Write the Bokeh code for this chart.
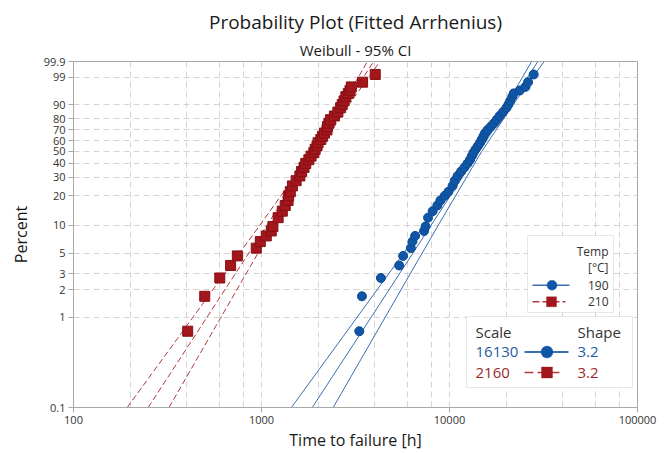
import numpy as np
from bokeh.plotting import figure
from bokeh.models import (FixedTicker, Label, BoxAnnotation, Arrow, Range1d,
                          BasicTickFormatter, Title)
from bokeh.embed import file_html
from bokeh.resources import INLINE

# ---------------- data ----------------
TITLE = "Probability Plot (Fitted Arrhenius)"
SUBTITLE = "Weibull - 95% CI"
X_LABEL = "Time to failure [h]"
Y_LABEL = "Percent"

x_ticks = [100, 1000, 10000, 100000]
x_grid = [200, 400, 600, 800, 1000, 2000, 4000, 6000, 8000, 10000,
          20000, 40000, 60000, 80000]
y_ticks = [0.1, 1, 2, 3, 5, 10, 20, 30, 40, 50, 60, 70, 80, 90, 99, 99.9]
y_tick_labels = ["0.1", "1", "2", "3", "5", "10", "20", "30", "40", "50",
                 "60", "70", "80", "90", "99", "99.9"]
y_grid = [1, 2, 3, 5, 10, 20, 30, 40, 50, 60, 70, 80, 90, 99]

temps = ["190", "210"]
scales = [16130, 2160]
shapes = [3.2, 3.2]

pct_190 = [0.7, 1.7, 2.7, 3.7, 4.7, 5.7, 6.7, 7.7, 8.7, 9.7, 12, 14, 16, 18,
           20, 22, 25, 28, 31, 34, 37, 40, 43, 46, 49, 52, 55, 58, 61, 64,
           67, 70, 73, 76, 79, 82, 85, 88, 90, 92, 94, 95.3, 96.3, 97.3,
           98.3, 99.3]
time_190 = [3313, 3422, 4317, 5398, 5668, 6228, 6351, 6564, 7325, 7461,
            7691, 8135, 8617, 8950, 9432, 9879, 10385, 10656, 11041, 11521,
            12012, 12474, 12860, 13147, 13423, 13770, 14162, 14549, 14854,
            15148, 15447, 15946, 16580, 17258, 17836, 18459, 19242, 20107,
            20580, 21035, 21580, 21980, 23650, 25350, 26170, 28050]

pct_210 = [0.7, 1.7, 2.7, 3.7, 4.7, 5.7, 6.7, 7.7, 8.7, 9.7, 12, 14, 16, 18,
           20, 22, 25, 28, 31, 34, 37, 40, 43, 46, 49, 52, 55, 58, 61, 64,
           67, 70, 73, 76, 79, 82, 85, 88, 90, 92, 94, 95.3, 96.3, 97.3,
           98.3, 99.3]
time_210 = [405, 499, 600, 685, 744, 938, 985, 1060, 1127, 1150,
            1226, 1290, 1337, 1385, 1394, 1423, 1460, 1528, 1600, 1634,
            1684, 1720, 1786, 1835, 1900, 1929, 1974, 2000, 2068, 2113,
            2161, 2230, 2244, 2283, 2330, 2441, 2548, 2636, 2688, 2748,
            2810, 2896, 2957, 3005, 3448, 4027]

ci_pct = [0.1, 1, 10, 50, 90, 99.9]
ci_lo_190 = [1442, 3227, 7318, 13948, 20090, 27340]
ci_hi_190 = [2406, 4550, 8713, 14834, 21819, 31861]
ci_lo_210 = [193, 432, 980, 1868, 2690, 3662]
ci_hi_210 = [322, 609, 1167, 1987, 2921, 4267]

fit_pct = [0.1, 99.9]


def wz(pct):
    """Weibull probability-paper transform of a percentage."""
    p = np.asarray(pct, dtype=float) / 100.0
    return np.log(-np.log(1.0 - p))


FONT = "Open Sans"
BLUE = "#0f56a6"
BLUE_EDGE = "#0b4a90"
BLUE_LINE = "#3a6fb3"
RED = "#a3161b"
RED_EDGE = "#861014"
RED_LINE = "#b03a3f"
TXT = "#333333"

p = figure(width=670, height=453, x_axis_type="log",
           x_range=Range1d(100, 100000),
           y_range=Range1d(float(wz(0.1)), float(wz(99.9))),
           output_backend="svg", toolbar_location=None, title=None,
           min_border_left=73, min_border_right=33,
           min_border_top=61, min_border_bottom=44)
p.background_fill_color = "white"
p.border_fill_color = "white"
p.outline_line_color = "#a8a8a8"
p.outline_line_width = 1

# ---- titles ----
p.add_layout(Title(text=SUBTITLE, align="center", text_font=FONT,
                   text_font_size="15px", text_font_style="normal",
                   text_color="#1a1a1a", standoff=4, offset=0), "above")
p.add_layout(Title(text=TITLE, align="center", text_font=FONT,
                   text_font_size="19px", text_font_style="normal",
                   text_color="#1a1a1a", standoff=2, offset=0), "above")

# ---- fitted lines and confidence intervals ----
z_fit = wz(fit_pct)
z_ci = wz(ci_pct)
for sc, sh, col, dash, lo, hi in [
        (scales[0], shapes[0], BLUE_LINE, "solid", ci_lo_190, ci_hi_190),
        (scales[1], shapes[1], RED_LINE, "6 3", ci_lo_210, ci_hi_210)]:
    t_fit = sc * np.exp(z_fit / sh)
    p.line(t_fit, z_fit, line_color=col, line_width=1, line_dash=dash)
    p.line(lo, z_ci, line_color=col, line_width=1, line_dash=dash)
    p.line(hi, z_ci, line_color=col, line_width=1, line_dash=dash)

# ---- data points ----
p.scatter(time_190, wz(pct_190), marker="circle", size=9,
          fill_color=BLUE, line_color=BLUE_EDGE, line_width=1)
p.scatter(time_210, wz(pct_210), marker="square", size=10,
          fill_color=RED, line_color=RED_EDGE, line_width=1)

# ---- axes ----
p.xaxis.ticker = FixedTicker(ticks=x_ticks, minor_ticks=[])
p.xaxis.formatter = BasicTickFormatter(use_scientific=False)
p.xgrid.ticker = FixedTicker(ticks=x_grid, minor_ticks=[])
zt = wz(y_ticks)
p.yaxis.ticker = FixedTicker(ticks=[float(v) for v in zt], minor_ticks=[])
p.yaxis.major_label_overrides = {float(v): lab for v, lab in zip(zt, y_tick_labels)}
p.ygrid.ticker = FixedTicker(ticks=[float(v) for v in wz(y_grid)], minor_ticks=[])

p.grid.grid_line_color = "#d4d4d4"
p.grid.grid_line_dash = "6 4"
p.grid.grid_line_width = 1

for ax in (p.xaxis[0], p.yaxis[0]):
    ax.axis_line_color = "#a8a8a8"
    ax.major_tick_line_color = "#a8a8a8"
    ax.major_tick_out = 5
    ax.major_tick_in = 0
    ax.minor_tick_line_color = None
    ax.major_label_text_font = FONT
    ax.major_label_text_font_size = "11px"
    ax.major_label_text_color = TXT
    ax.axis_label_text_font = FONT
    ax.axis_label_text_font_size = "16px"
    ax.axis_label_text_font_style = "normal"
    ax.axis_label_text_color = "#1a1a1a"

p.xaxis.axis_label = X_LABEL
p.yaxis.axis_label = Y_LABEL
p.xaxis.major_label_standoff = 3
p.xaxis.axis_label_standoff = 2
p.yaxis.major_label_standoff = 3
p.yaxis.axis_label_standoff = 9


def lab(x, y, text, size, color=TXT, align="left"):
    p.add_layout(Label(x=x, y=y, x_units="screen", y_units="screen",
                       text=text, text_font=FONT, text_font_size=size,
                       text_align=align, text_baseline="middle",
                       text_color=color))


def seg(x0, x1, y, color, dash="solid", width=1.5):
    p.add_layout(Arrow(x_start=x0, y_start=y, x_end=x1, y_end=y,
                       start_units="screen", end_units="screen",
                       start=None, end=None, line_color=color,
                       line_width=width, line_dash=dash))


def marker(x, y, size, color, edge, radius=0):
    h = size / 2
    p.add_layout(BoxAnnotation(left=x - h, right=x + h, bottom=y - h, top=y + h,
                               left_units="screen", right_units="screen",
                               bottom_units="screen", top_units="screen",
                               fill_color=color, fill_alpha=1,
                               line_color=edge, line_width=1,
                               border_radius=int(radius)))


# ---- legend 1: Temp ----
p.add_layout(BoxAnnotation(left=454, right=540, bottom=95, top=172,
                           left_units="screen", right_units="screen",
                           bottom_units="screen", top_units="screen",
                           fill_color="white", fill_alpha=1,
                           line_color="#b0b0b0", line_width=1))
lab(535, 156.5, "Temp", "12px", align="right")
lab(535, 140.5, "[°C]", "12px", align="right")
seg(459, 496, 122.3, BLUE_LINE)
marker(478.5, 122.3, 10, BLUE, BLUE_EDGE, radius=5)
lab(535, 122.3, temps[0], "12px", align="right")
seg(459, 492, 105.7, RED_LINE, dash="7 3")
marker(478, 105.7, 10, RED, RED_EDGE)
lab(535, 105.7, temps[1], "12px", align="right")

# ---- legend 2: Scale / Shape ----
p.add_layout(BoxAnnotation(left=393, right=559, bottom=20, top=91,
                           left_units="screen", right_units="screen",
                           bottom_units="screen", top_units="screen",
                           fill_color="white", fill_alpha=1,
                           line_color="#b0b0b0", line_width=1))
lab(402, 75.5, "Scale", "15px")
lab(504, 75.5, "Shape", "15px")
lab(402, 55.5, f"{scales[0]}", "15px", color="#245c9e")
seg(451, 495, 55.5, BLUE_LINE, width=2)
marker(473.5, 55.5, 12, BLUE, BLUE_EDGE, radius=6)
lab(504, 55.5, f"{shapes[0]}", "15px", color="#245c9e")
lab(402, 35, f"{scales[1]}", "15px", color="#9a2a2a")
seg(451, 490, 35, RED_LINE, dash="9 4", width=1.5)
marker(473.5, 35, 11, RED, RED_EDGE)
lab(504, 35, f"{shapes[1]}", "15px", color="#9a2a2a")

open("out.html", "w").write(file_html(p, INLINE))
